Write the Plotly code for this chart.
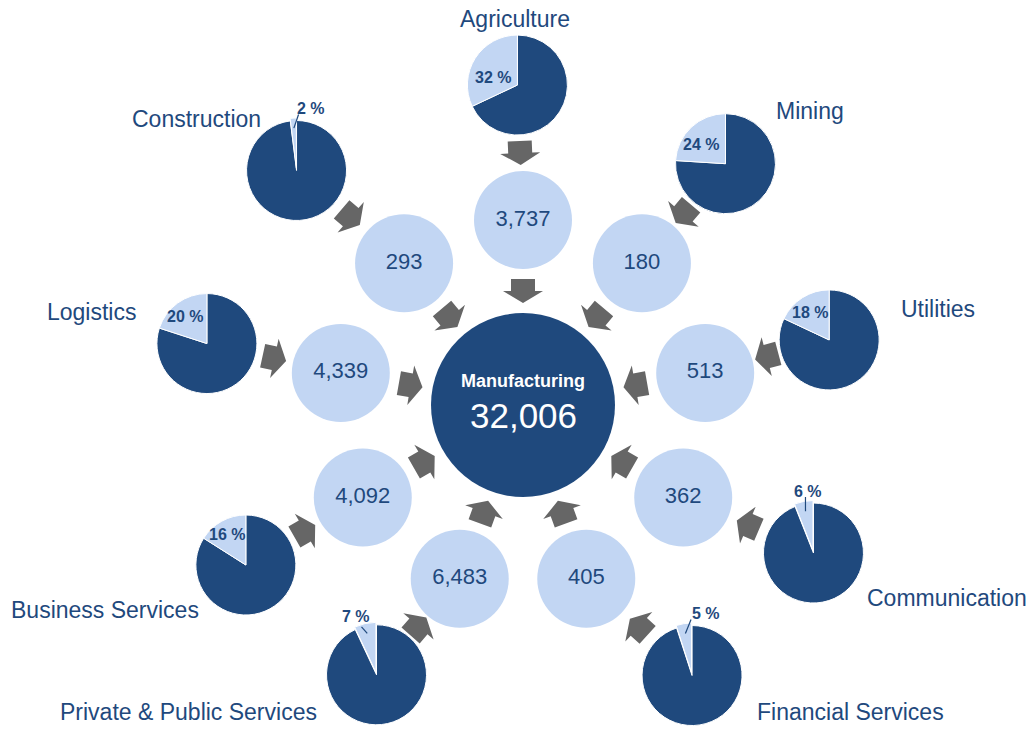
import math
import plotly.graph_objects as go

# ---------------- data ----------------
sectors = ["Agriculture", "Mining", "Utilities", "Communication", "Financial Services",
           "Private & Public Services", "Business Services", "Logistics", "Construction"]
flows = [3737, 180, 513, 362, 405, 6483, 4092, 4339, 293]      # value in light circles
shares = [32, 24, 18, 6, 5, 7, 16, 20, 2]                        # % shown in pies
hub_name = "Manufacturing"
hub_total = 32006

# ---------------- layout / style ----------------
W, H = 1032, 729
CX, CY = 523, 405
HUB_R = 92
RING_R = 185
NODE_R = 49
PIE_R = 50
node_angle = [40 * i for i in range(len(sectors))]
pie_angle = [-1, 40, 78, 117, 148, 208.5, 240, 281, 316]
pie_dist = [320, 315, 313, 326, 319, 307, 320, 322, 326]
name_pos = [(515, 19), (810, 111), (938, 309), (947, 598), (850, 712),
            (188, 712), (105, 610), (91, 312), (196, 119)]
pct_off = [(-24, -8), (-24, -19), (-19, -27), (-5, -62), (14, -62),
           (-21, -58), (-19, -31), (-22, -27), (14, -62)]
leader_end = [None, None, None, (-3, 6), (-15, 6), (6, 10), None, None, (-12, 6)]

DARK = "#1F497D"
LIGHT = "#C2D6F3"
ARROW = "#666666"
FONT = "Liberation Sans, Arial, sans-serif"


def polar(angle_deg, dist):
    a = math.radians(angle_deg)
    return CX + dist * math.sin(a), CY - dist * math.cos(a)


def arrow_path(px, py, dx, dy, L=24, ws=12, wh=20):
    n = math.hypot(dx, dy)
    dx, dy = dx / n, dy / n
    nx, ny = -dy, dx
    pts = [
        (px - dx * L / 2 + nx * ws, py - dy * L / 2 + ny * ws),
        (px + nx * ws, py + ny * ws),
        (px + nx * wh, py + ny * wh),
        (px + dx * L / 2, py + dy * L / 2),
        (px - nx * wh, py - ny * wh),
        (px - nx * ws, py - ny * ws),
        (px - dx * L / 2 - nx * ws, py - dy * L / 2 - ny * ws),
    ]
    return "M " + " L ".join(f"{x:.1f},{y:.1f}" for x, y in pts) + " Z"


def clamp01(v):
    return min(1.0, max(0.0, v))


fig = go.Figure()
shapes = []
annotations = []

node_xy = [polar(a, RING_R) for a in node_angle]
pie_xy = [polar(a, d) for a, d in zip(pie_angle, pie_dist)]

# hub circle
fig.add_trace(go.Scatter(x=[CX], y=[CY], mode="markers",
                         marker=dict(size=2 * HUB_R, color=DARK, line=dict(width=0)),
                         hoverinfo="skip"))
# sector value circles
fig.add_trace(go.Scatter(x=[p[0] for p in node_xy], y=[p[1] for p in node_xy],
                         mode="markers+text",
                         marker=dict(size=2 * NODE_R, color=LIGHT, line=dict(width=0)),
                         text=[f"{v:,}" for v in flows], textposition="middle center",
                         textfont=dict(family=FONT, size=22, color=DARK),
                         hoverinfo="skip"))

annotations.append(dict(x=CX, y=CY - 24, text=f"<b>{hub_name}</b>", showarrow=False,
                        font=dict(family=FONT, size=18, color="white")))
annotations.append(dict(x=CX, y=CY + 10, text=f"{hub_total:,}", showarrow=False,
                        font=dict(family=FONT, size=35, color="white")))

for i, name in enumerate(sectors):
    s = shares[i]
    pcx, pcy = pie_xy[i]
    ncx, ncy = node_xy[i]
    pull = 0.05 if s < 10 else 0.0
    rd = PIE_R * (1 + pull)
    # clockwise from 12 o'clock: dark remainder first, so the share slice ends at 12 o'clock (left side)
    fig.add_trace(go.Pie(values=[100 - s, s], sort=False, direction="clockwise",
                         rotation=0, pull=[0, pull], textinfo="none", hoverinfo="skip",
                         marker=dict(colors=[DARK, LIGHT], line=dict(color="white", width=1)),
                         domain=dict(x=[clamp01((pcx - rd) / W), clamp01((pcx + rd) / W)],
                                     y=[clamp01(1 - (pcy + rd) / H), clamp01(1 - (pcy - rd) / H)]),
                         showlegend=False))
    # sector name
    annotations.append(dict(x=name_pos[i][0], y=name_pos[i][1], text=name, showarrow=False,
                            font=dict(family=FONT, size=23, color=DARK)))
    # percent label
    lx, ly = pcx + pct_off[i][0], pcy + pct_off[i][1]
    annotations.append(dict(x=lx, y=ly, text=f"<b>{s} %</b>", showarrow=False,
                            font=dict(family=FONT, size=16, color=DARK)))
    if leader_end[i] is not None:
        mid = math.radians(-s / 100 * 360 / 2)
        sx = pcx + 0.85 * PIE_R * math.sin(mid)
        sy = pcy - 0.85 * PIE_R * math.cos(mid)
        shapes.append(dict(type="line", xref="x", yref="y", x0=sx, y0=sy,
                           x1=lx + leader_end[i][0], y1=ly + leader_end[i][1],
                           line=dict(color=DARK, width=1.2)))
    # outer arrow: pie -> node
    dx, dy = ncx - pcx, ncy - pcy
    dist = math.hypot(dx, dy)
    t = (PIE_R + (dist - NODE_R)) / 2 / dist
    shapes.append(dict(type="path", xref="x", yref="y",
                       path=arrow_path(pcx + dx * t, pcy + dy * t, dx, dy),
                       fillcolor=ARROW, line=dict(width=0)))
    # inner arrow: node -> hub
    dx, dy = CX - ncx, CY - ncy
    dist = math.hypot(dx, dy)
    t = (NODE_R + (dist - HUB_R)) / 2 / dist
    shapes.append(dict(type="path", xref="x", yref="y",
                       path=arrow_path(ncx + dx * t, ncy + dy * t, dx, dy),
                       fillcolor=ARROW, line=dict(width=0)))

fig.update_layout(
    width=W, height=H, margin=dict(l=0, r=0, t=0, b=0),
    paper_bgcolor="white", plot_bgcolor="white", showlegend=False,
    xaxis=dict(range=[0, W], visible=False, fixedrange=True),
    yaxis=dict(range=[H, 0], visible=False, fixedrange=True),
    shapes=shapes, annotations=annotations,
)

fig.write_html("out.html", config={"displayModeBar": False},
               post_script="document.body.style.margin='0';")
